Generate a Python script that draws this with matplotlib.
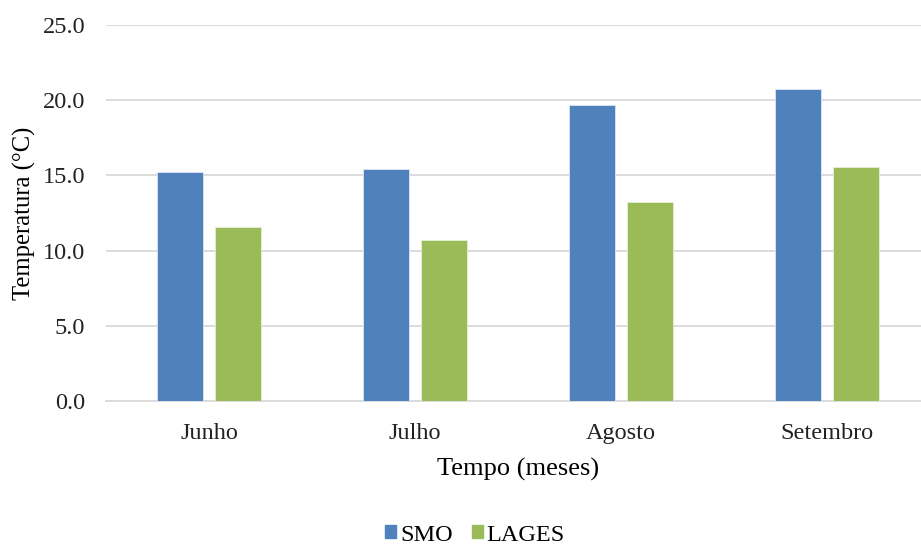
import numpy as np
import matplotlib.pyplot as plt
from matplotlib.patches import Patch

meses = ['Junho', 'Julho', 'Agosto', 'Setembro']
smo = [15.25, 15.45, 19.7, 20.75]
lages = [11.6, 10.7, 13.25, 15.55]

COR_SMO = '#4F81BD'
COR_LAGES = '#9BBB59'

plt.rcParams['font.family'] = ['Liberation Serif', 'DejaVu Serif']

fig = plt.figure(figsize=(9.21, 5.44), dpi=100)
ax = fig.add_axes([0.1151, 0.263, 0.8947, 0.691])

x = np.arange(len(meses))
largura = 0.223
desloc = 0.141
ax.bar(x - desloc, smo, largura, color=COR_SMO, edgecolor='#dce6f2', linewidth=0.6, zorder=3)
ax.bar(x + desloc, lages, largura, color=COR_LAGES, edgecolor='#e6eed8', linewidth=0.6, zorder=3)

ax.set_xlim(-0.5, len(meses) - 0.5)
ax.set_ylim(0, 25)
ax.set_yticks(np.arange(0, 25.1, 5))
ax.set_yticklabels([f'{v:.1f}' for v in np.arange(0, 25.1, 5)])
ax.set_xticks(x)
ax.set_xticklabels(meses)
ax.tick_params(axis='both', length=0, labelsize=17.5, colors='#222222')
ax.tick_params(axis='y', pad=15)
ax.tick_params(axis='x', pad=16)

ax.grid(axis='y', color='#d9d9d9', linewidth=1.3, zorder=0)
for lado in ['top', 'right', 'left']:
    ax.spines[lado].set_visible(False)
ax.spines['bottom'].set_color('#d9d9d9')
ax.spines['bottom'].set_linewidth(1.3)

ax.set_xlabel('Tempo (meses)', fontsize=19, labelpad=10)
ax.set_ylabel('Temperatura (°C)', fontsize=17.7, labelpad=5)

handles = [Patch(color=COR_SMO, label='SMO'), Patch(color=COR_LAGES, label='LAGES')]
fig.legend(handles=handles, loc='lower center', bbox_to_anchor=(0.516, -0.043), ncol=2,
           frameon=False, fontsize=17.5, handlelength=0.45, handleheight=0.45,
           handletextpad=0.15, columnspacing=0.8)

fig.savefig('out.png', dpi=100)
